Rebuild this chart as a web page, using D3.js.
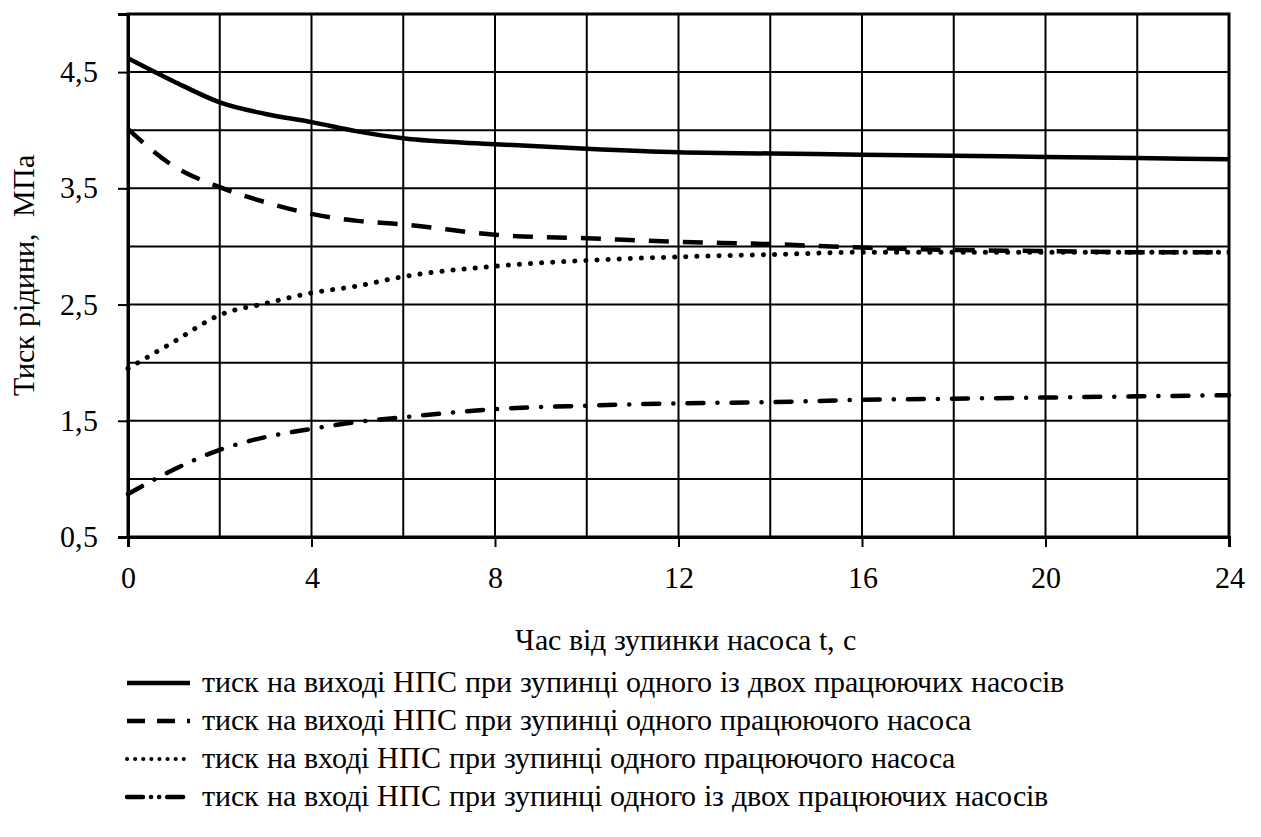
<!DOCTYPE html>
<html>
<head>
<meta charset="utf-8">
<script src="https://cdn.jsdelivr.net/npm/d3@7"></script>
<style>
  @font-face {
    font-family: "ChartSerif";
    src: local("Liberation Serif"), local("LiberationSerif"), local("LiberationSerif-Regular"), local("Tinos"), local("Times New Roman");
  }
  body { margin: 0; background: #fff; font-family: "ChartSerif", "Liberation Serif", serif; }
  svg, svg text { font-family: "ChartSerif", "Liberation Serif", serif; }
</style>
</head>
<body>
<svg width="1261" height="837"></svg>
<script>
var times = [0, 1, 2, 3, 4, 5, 6, 8, 10, 12, 14, 16, 18, 20, 22, 24]
var outTwoPumps = [4.62, 4.42, 4.24, 4.14, 4.07, 3.99, 3.93, 3.88, 3.84, 3.81, 3.80, 3.79, 3.78, 3.77, 3.76, 3.75]
var outOnePump = [4.01, 3.69, 3.51, 3.38, 3.28, 3.22, 3.19, 3.10, 3.07, 3.04, 3.02, 2.99, 2.97, 2.96, 2.95, 2.95]
var inOnePump = [1.95, 2.18, 2.41, 2.51, 2.60, 2.66, 2.74, 2.83, 2.88, 2.91, 2.93, 2.95, 2.95, 2.95, 2.95, 2.95]
var inTwoPumps = [0.87, 1.08, 1.25, 1.36, 1.43, 1.49, 1.53, 1.60, 1.63, 1.65, 1.66, 1.68, 1.69, 1.70, 1.71, 1.72]
var xTicks = [0, 4, 8, 12, 16, 20, 24]
var yTicks = [0.5, 1.5, 2.5, 3.5, 4.5]
var legendLabels = [
  "тиск на виході НПС при зупинці одного із двох працюючих насосів",
  "тиск на виході НПС при зупинці одного працюючого насоса",
  "тиск на вході НПС при зупинці одного працюючого насоса",
  "тиск на вході НПС при зупинці одного із двох працюючих насосів"
]

var FONT = "ChartSerif, 'Liberation Serif'"
var svg = d3.select("svg")
var xScale = d3.scaleLinear().domain([0, 24]).range([128, 1229])
var yScale = d3.scaleLinear().domain([0.5, 5.0]).range([537, 14])

// grid
svg.append("g").selectAll("line")
  .data(d3.range(0, 25, 2))
  .enter().append("line")
  .attr("x1", d => xScale(d)).attr("x2", d => xScale(d))
  .attr("y1", yScale(5)).attr("y2", yScale(0.5))
  .attr("stroke", "#000").attr("stroke-width", 2)
svg.append("g").selectAll("line")
  .data(d3.range(0.5, 5.01, 0.5))
  .enter().append("line")
  .attr("x1", xScale(0)).attr("x2", xScale(24))
  .attr("y1", d => yScale(d)).attr("y2", d => yScale(d))
  .attr("stroke", "#000").attr("stroke-width", 2)

var fmt = d => String(d).replace(".", ",")

var xAxis = d3.axisBottom(xScale).tickValues(xTicks).tickSize(10).tickPadding(20).tickFormat(d => d)
svg.append("g").attr("transform", "translate(0," + yScale(0.5) + ")")
  .call(xAxis)
  .attr("font-family", null).attr("font-size", null)
  .call(g => g.select(".domain").attr("stroke-width", 3))
  .call(g => g.selectAll(".tick line").attr("stroke-width", 2))
  .call(g => g.selectAll(".tick text").attr("font-size", 30).style("font-family", FONT))

var yAxis = d3.axisLeft(yScale).tickValues(yTicks).tickSize(10).tickPadding(20).tickFormat(fmt)
svg.append("g").attr("transform", "translate(" + xScale(0) + ",0)")
  .call(yAxis)
  .attr("font-family", null).attr("font-size", null)
  .call(g => g.select(".domain").attr("stroke-width", 3))
  .call(g => g.selectAll(".tick line").attr("stroke-width", 2))
  .call(g => g.selectAll(".tick text").attr("font-size", 30).style("font-family", FONT))

// frame
svg.append("rect")
  .attr("x", xScale(0)).attr("y", yScale(5))
  .attr("width", xScale(24) - xScale(0)).attr("height", yScale(0.5) - yScale(5))
  .attr("fill", "none").attr("stroke", "#000").attr("stroke-width", 3)

var series = [outTwoPumps, outOnePump, inOnePump, inTwoPumps]
var styles = [
  { dash: null, cap: "butt" },
  { dash: "20,14", cap: "butt" },
  { dash: "0.1,11", cap: "round" },
  { dash: "16,14,0.1,14", cap: "round" }
]

var line = d3.line().x((d, i) => xScale(times[i])).y(d => yScale(d)).curve(d3.curveMonotoneX)

series.forEach(function (s, k) {
  svg.append("path")
    .attr("d", line(s))
    .attr("fill", "none")
    .attr("stroke", "#000")
    .attr("stroke-width", k == 2 ? 5 : 4.5)
    .attr("stroke-linecap", styles[k].cap)
    .attr("stroke-dasharray", styles[k].dash)
})

// axis titles
svg.append("text")
  .attr("x", 685).attr("y", 650)
  .attr("text-anchor", "middle").attr("font-size", 30)
  .style("font-family", FONT)
  .text("Час від зупинки насоса t, с")
svg.append("text")
  .attr("transform", "translate(34,275) rotate(-90)")
  .attr("text-anchor", "middle").attr("font-size", 30)
  .style("font-family", FONT)
  .style("white-space", "pre")
  .text("Тиск рідини,  МПа")

// legend
var legendG = svg.append("g").selectAll("g")
  .data(legendLabels)
  .enter().append("g")
  .attr("transform", (d, i) => "translate(0," + (683 + i * 38) + ")")
legendG.append("line")
  .attr("x1", 127).attr("x2", 190).attr("y1", 0).attr("y2", 0)
  .attr("stroke", "#000")
  .attr("stroke-width", (d, i) => i == 2 ? 4 : 4.5)
  .attr("stroke-linecap", (d, i) => styles[i].cap)
  .attr("stroke-dasharray", (d, i) => i == 1 ? "18,12" : i == 2 ? "0.1,8" : i == 3 ? "16,8,0.1,8,0.1,8" : null)
legendG.append("text")
  .attr("x", 202).attr("y", 9)
  .attr("font-size", 30)
  .style("font-family", FONT)
  .text(d => d)
</script>
</body>
</html>
